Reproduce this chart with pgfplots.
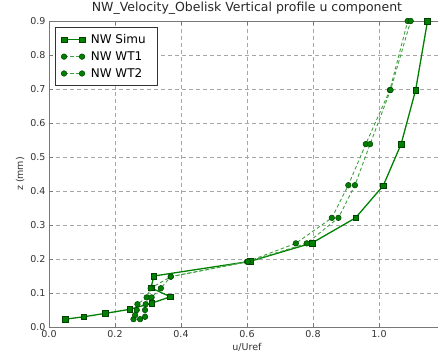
\documentclass[border=0pt]{standalone}
\usepackage{fontspec}
\setmainfont{DejaVu Sans}
\usepackage{pgfplots}
\pgfplotsset{compat=1.18}
\definecolor{mplgreen}{RGB}{0,128,0}
\definecolor{framegray}{RGB}{120,120,120}
\begin{document}
\begin{tikzpicture}
\begin{axis}[
  scale only axis, width=396pt, height=306pt,
  xmin=0, xmax=1.2, ymin=0, ymax=0.9,
  xtick={0,0.2,0.4,0.6,0.8,1.0,1.2},
  xticklabels={0.0,0.2,0.4,0.6,0.8,1.0,1.2},
  ytick={0,0.1,0.2,0.3,0.4,0.5,0.6,0.7,0.8,0.9},
  yticklabels={0.0,0.1,0.2,0.3,0.4,0.5,0.6,0.7,0.8,0.9},
  tick label style={font=\fontsize{9.5}{11}\selectfont, text=black!80},
  tick align=inside, major tick length=4pt,
  tick style={framegray},
  axis line style={framegray, line width=0.8pt},
  grid=major,
  major grid style={gray!70, dash pattern=on 4pt off 3pt, line width=0.6pt},
  title={NW\_Velocity\_Obelisk Vertical profile u component},
  title style={font=\fontsize{12.5}{14}\selectfont, text=black!85, yshift=-3pt},
  xlabel={u/Uref}, ylabel={z (mm)},
  label style={font=\fontsize{9.5}{11}\selectfont, text=black!80},
  xlabel style={yshift=1pt},
  ylabel style={yshift=-1pt},
  legend style={at={(0.015,0.98)}, anchor=north west, draw=black!80, line width=0.6pt,
    font=\fontsize{12}{14}\selectfont, row sep=2.5pt, inner xsep=6pt, inner ysep=5pt,
    nodes={inner xsep=6pt}},
  legend cell align=left,
  legend image code/.code={\draw[#1] plot coordinates {(0pt,0pt) (18pt,0pt)};},
]
\addplot[mplgreen, line width=1.3pt, mark=square*, mark size=2.8pt,
  mark options={solid, fill=mplgreen, draw=mplgreen!50!black, line width=0.5pt}]
coordinates {
(0.05,0.023) (0.105,0.030) (0.17,0.040) (0.245,0.052) (0.311,0.070)
(0.368,0.089) (0.309,0.115) (0.318,0.150) (0.609,0.193) (0.797,0.247)
(0.929,0.321) (1.013,0.416) (1.067,0.538) (1.111,0.697) (1.147,0.900)
};
\addlegendentry{NW Simu}
\addplot[mplgreen!75, line width=0.9pt, dash pattern=on 3.5pt off 2.5pt, mark=*, mark size=2.8pt,
  mark options={solid, fill=mplgreen, draw=mplgreen!50!black, line width=0.5pt}]
coordinates {
(0.256,0.023) (0.261,0.035) (0.266,0.050) (0.268,0.067) (0.296,0.087)
(0.308,0.114) (0.369,0.148) (0.600,0.192) (0.748,0.246) (0.857,0.321)
(0.907,0.417) (0.960,0.538) (1.033,0.697) (1.087,0.900)
};
\addlegendentry{NW WT1}
\addplot[mplgreen!75, line width=0.9pt, dash pattern=on 3.5pt off 2.5pt, mark=*, mark size=2.8pt,
  mark options={solid, fill=mplgreen, draw=mplgreen!50!black, line width=0.5pt}]
coordinates {
(0.276,0.023) (0.291,0.030) (0.291,0.050) (0.293,0.067) (0.311,0.087)
(0.339,0.114) (0.369,0.148) (0.603,0.192) (0.781,0.246) (0.877,0.321)
(0.927,0.417) (0.973,0.538) (1.035,0.697) (1.096,0.900)
};
\addlegendentry{NW WT2}
\end{axis}
\pgfresetboundingbox
\path (current axis.south west) ++(-49pt,-33pt) coordinate (bbsw);
\path (current axis.north west) ++(389pt,21pt) coordinate (bbne);
\path (bbsw) rectangle (bbne);
\end{tikzpicture}
\end{document}
